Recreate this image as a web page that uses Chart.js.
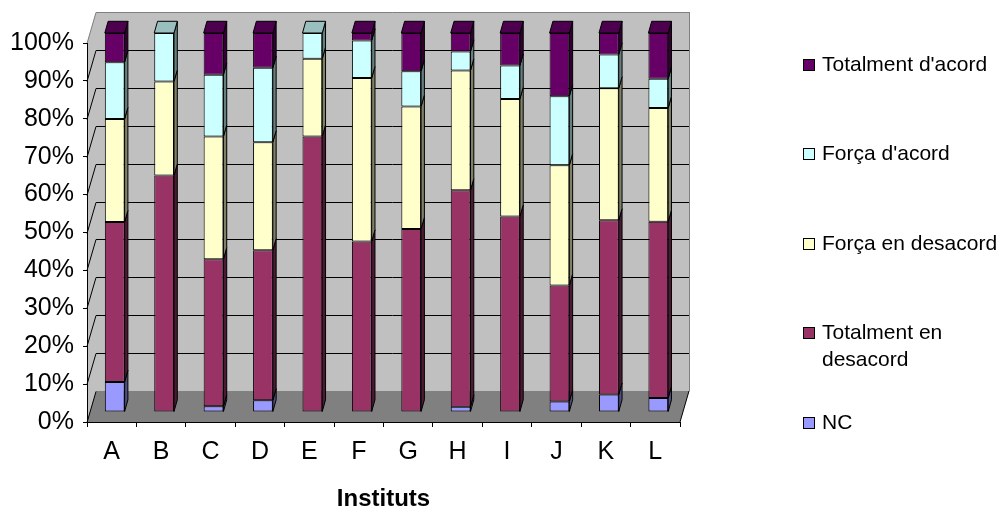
<!DOCTYPE html>
<html>
<head>
<meta charset="utf-8">
<script src="https://cdn.jsdelivr.net/npm/chart.js@4.4.0/dist/chart.umd.min.js"></script>
<style>
  html, body { margin: 0; padding: 0; background: #fff; }
  canvas { display: block; }
</style>
</head>
<body>
<canvas id="chartInstituts" width="1002" height="511"></canvas>
<script>
const categories = ['A', 'B', 'C', 'D', 'E', 'F', 'G', 'H', 'I', 'J', 'K', 'L'];
const seriesLabels = ['NC', ['Totalment en', 'desacord'], 'Força en desacord', "Força d'acord", "Totalment d'acord"];
const nc            = [7.9, 0, 1.5, 3.1, 0, 0, 0, 1.4, 0, 2.8, 4.6, 3.7];
const totDesacord   = [42.2, 62.4, 38.8, 39.6, 72.7, 45.0, 48.3, 57.1, 51.6, 30.6, 46.0, 46.5];
const forcaDesacord = [27.2, 24.8, 32.4, 28.5, 20.5, 43.1, 32.3, 31.6, 31.0, 31.7, 34.8, 30.0];
const forcaAcord    = [15.0, 12.8, 16.3, 19.6, 6.8, 9.9, 9.3, 5.0, 8.8, 18.2, 8.9, 7.7];
const totAcord      = [7.7, 0, 11.0, 9.2, 0, 2.0, 10.1, 4.9, 8.6, 16.7, 5.7, 12.1];
const yTicks = [0, 10, 20, 30, 40, 50, 60, 70, 80, 90, 100];

const colors = ['#9999ff', '#993366', '#ffffcc', '#ccffff', '#660066'];
const FONT = '"Liberation Sans", Arial, sans-serif';

// excel style 3d offsets (px)
const wallDepth = { dx: 9, dy: -31 };
const barShift = { dx: 3, dy: -10 };
const barDepth = { dx: 3.3, dy: -11.7 };

function shade(hex, f) {
  const n = parseInt(hex.slice(1), 16);
  const r = Math.round(((n >> 16) & 255) * f), g = Math.round(((n >> 8) & 255) * f), b = Math.round((n & 255) * f);
  return 'rgb(' + r + ',' + g + ',' + b + ')';
}

const walls3d = {
  id: 'walls3d',
  beforeDraw(chart) {
    const { ctx, chartArea: a } = chart;
    const y = chart.scales.y;
    const dx = wallDepth.dx, dy = wallDepth.dy;
    const y0 = y.getPixelForValue(0), y100 = y.getPixelForValue(100);
    ctx.save();
    ctx.fillStyle = '#fff';
    ctx.fillRect(0, 0, chart.width, chart.height);
    // back wall + left wall
    ctx.fillStyle = '#c0c0c0';
    ctx.fillRect(a.left + dx, y100 + dy, a.right - a.left, y0 - y100);
    ctx.beginPath();
    ctx.moveTo(a.left, y100); ctx.lineTo(a.left + dx, y100 + dy);
    ctx.lineTo(a.left + dx, y0 + dy); ctx.lineTo(a.left, y0);
    ctx.closePath(); ctx.fill();
    // floor
    ctx.fillStyle = '#808080';
    ctx.beginPath();
    ctx.moveTo(a.left, y0); ctx.lineTo(a.right, y0);
    ctx.lineTo(a.right + dx, y0 + dy); ctx.lineTo(a.left + dx, y0 + dy);
    ctx.closePath(); ctx.fill();
    // gridlines
    ctx.lineWidth = 1;
    yTicks.forEach(v => {
      const py = Math.round(y.getPixelForValue(v)) + 0.5;
      ctx.strokeStyle = v === 100 ? '#808080' : '#000';
      ctx.beginPath();
      ctx.moveTo(a.left, py);
      ctx.lineTo(a.left + dx, py + dy);
      if (v > 0) ctx.lineTo(a.right + dx, py + dy);
      ctx.stroke();
    });
    // wall outline
    ctx.strokeStyle = '#808080';
    ctx.beginPath();
    ctx.moveTo(Math.round(a.right + dx) + 0.5, Math.round(y100 + dy));
    ctx.lineTo(Math.round(a.right + dx) + 0.5, Math.round(y0 + dy));
    ctx.stroke();
    ctx.strokeStyle = '#000';
    ctx.beginPath();
    ctx.moveTo(a.right, y0); ctx.lineTo(a.right + dx, y0 + dy);
    ctx.stroke();
    ctx.restore();
  },
  beforeDatasetsDraw(chart) {
    chart.ctx.save();
    chart.ctx.translate(barShift.dx, barShift.dy);
  },
  afterDatasetsDraw(chart) {
    const ctx = chart.ctx;
    const n = chart.data.datasets.length;
    ctx.lineWidth = 1;
    ctx.strokeStyle = '#000';
    categories.forEach((c, j) => {
      let topIdx = -1;
      for (let i = 0; i < n; i++) if (chart.data.datasets[i].data[j] > 0) topIdx = i;
      for (let i = 0; i < n; i++) {
        if (!(chart.data.datasets[i].data[j] > 0)) continue;
        const el = chart.getDatasetMeta(i).data[j];
        const { x, y, base, width } = el.getProps(['x', 'y', 'base', 'width'], true);
        const xl = x - width / 2, xr = x + width / 2;
        // right face
        ctx.fillStyle = shade(colors[i], 0.5);
        ctx.beginPath();
        ctx.moveTo(xr, y); ctx.lineTo(xr + barDepth.dx, y + barDepth.dy);
        ctx.lineTo(xr + barDepth.dx, base + barDepth.dy); ctx.lineTo(xr, base);
        ctx.closePath(); ctx.fill(); ctx.stroke();
        if (i === topIdx) {
          ctx.fillStyle = shade(colors[i], 0.75);
          ctx.beginPath();
          ctx.moveTo(xl, y); ctx.lineTo(xl + barDepth.dx, y + barDepth.dy);
          ctx.lineTo(xr + barDepth.dx, y + barDepth.dy); ctx.lineTo(xr, y);
          ctx.closePath(); ctx.fill(); ctx.stroke();
        }
      }
    });
    ctx.restore();
  },
  afterDraw(chart) {
    // legend, reversed order like excel
    const ctx = chart.ctx;
    const ds = chart.data.datasets;
    ctx.save();
    ctx.font = '21px ' + FONT;
    ctx.textBaseline = 'alphabetic';
    ctx.lineWidth = 1;
    for (let k = 0; k < ds.length; k++) {
      const d = ds[ds.length - 1 - k];
      const baseline = Math.round(63 + k * 89.4 + 8);
      ctx.fillStyle = d.backgroundColor;
      ctx.fillRect(803, baseline - 12, 12, 12);
      ctx.strokeStyle = '#000';
      ctx.strokeRect(803.5, baseline - 11.5, 11, 11);
      ctx.fillStyle = '#000';
      const lines = Array.isArray(d.label) ? d.label : [d.label];
      lines.forEach((t, li) => ctx.fillText(t, 822, baseline + li * 27));
    }
    ctx.restore();
  }
};

const seriesData = [nc, totDesacord, forcaDesacord, forcaAcord, totAcord];

new Chart(document.getElementById('chartInstituts'), {
  type: 'bar',
  data: {
    labels: categories,
    datasets: seriesData.map((d, i) => ({
      label: seriesLabels[i],
      data: d,
      backgroundColor: colors[i],
      borderColor: '#000',
      borderWidth: 1,
      borderSkipped: false,
      barPercentage: 0.4,
      categoryPercentage: 1
    }))
  },
  plugins: [walls3d],
  options: {
    responsive: false,
    animation: false,
    layout: { padding: { top: 43, right: 322, bottom: 0, left: 0 } },
    plugins: { legend: { display: false }, tooltip: { enabled: false } },
    scales: {
      x: {
        stacked: true,
        grid: { offset: true, drawOnChartArea: false, tickLength: 5, color: '#000' },
        border: { display: true, color: '#000' },
        ticks: { color: '#000', font: { family: FONT, size: 25, lineHeight: 1.2 }, padding: 10, maxRotation: 0 },
        title: { display: true, text: 'Instituts', color: '#000', font: { family: FONT, size: 24, weight: 'bold', lineHeight: 1 }, padding: 0 },
        afterFit(scale) { scale.height = 89; }
      },
      y: {
        stacked: true,
        min: 0,
        max: 100,
        grid: { drawOnChartArea: false, tickLength: 4, color: '#000' },
        border: { display: true, color: '#000' },
        ticks: { color: '#000', font: { family: FONT, size: 25 }, padding: 9, callback: v => v + '%' },
        afterBuildTicks(scale) { scale.ticks = yTicks.map(v => ({ value: v })); },
        afterFit(scale) { scale.width = 87; }
      }
    }
  }
});
</script>
</body>
</html>
